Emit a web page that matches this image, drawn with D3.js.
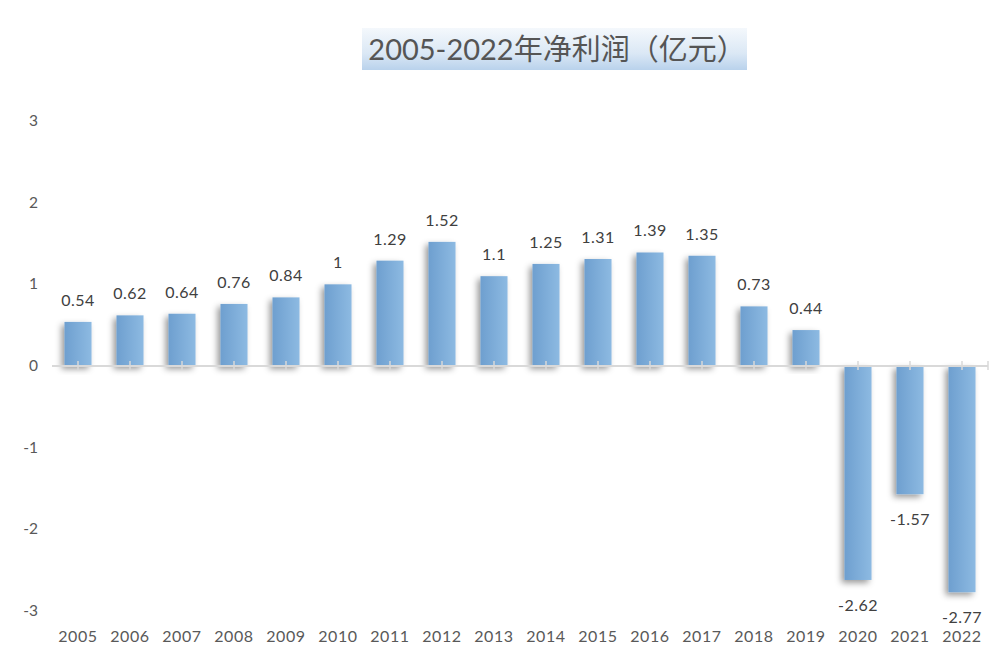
<!DOCTYPE html>
<html><head><meta charset="utf-8">
<script src="https://cdn.jsdelivr.net/npm/d3@7/dist/d3.min.js"></script>
<style>body{margin:0;background:#fff}svg{display:block}</style>
</head><body>
<script>
const years = ["2005","2006","2007","2008","2009","2010","2011","2012","2013","2014","2015","2016","2017","2018","2019","2020","2021","2022"];
const profits = [0.54,0.62,0.64,0.76,0.84,1,1.29,1.52,1.1,1.25,1.31,1.39,1.35,0.73,0.44,-2.62,-1.57,-2.77];
const yTicks = [3,2,1,0,-1,-2,-3];
const title = "2005-2022年净利润（亿元）";

const W = 1006, H = 647;
const font = "Lato, 'Noto Sans CJK SC', sans-serif";
const svg = d3.select("body").append("svg").attr("width", W).attr("height", H);
const defs = svg.append("defs");

const tg = defs.append("linearGradient").attr("id","tg").attr("x1",0).attr("y1",0).attr("x2",0).attr("y2",1);
tg.append("stop").attr("offset","0%").attr("stop-color","#f4f8fc");
tg.append("stop").attr("offset","60%").attr("stop-color","#dbe8f5");
tg.append("stop").attr("offset","100%").attr("stop-color","#b9d2ec");

const bg = defs.append("linearGradient").attr("id","bg").attr("x1",0).attr("y1",0).attr("x2",1).attr("y2",0);
bg.append("stop").attr("offset","0%").attr("stop-color","#6e9fcf");
bg.append("stop").attr("offset","100%").attr("stop-color","#8dbae2");

const f = defs.append("filter").attr("id","sh").attr("x","-50%").attr("y","-20%").attr("width","200%").attr("height","140%");
f.append("feDropShadow").attr("dx",-3).attr("dy",3).attr("stdDeviation",3).attr("flood-color","#000").attr("flood-opacity",0.4);

// title
svg.append("rect").attr("x",362).attr("y",28).attr("width",385).attr("height",42).attr("fill","url(#tg)");
svg.append("text").attr("x",557).attr("y",60).attr("text-anchor","middle")
  .attr("font-family",font).attr("font-size",29).attr("fill","#555")
  .text(title);

const x = d3.scaleBand().domain(years).range([52,988]).paddingInner(0.48).paddingOuter(0.24);
const y = d3.scaleLinear().domain([-3,3]).range([611,121]);

// y labels
svg.append("g").selectAll("text").data(yTicks).join("text")
  .attr("x",38).attr("y",d=>y(d)+5).attr("text-anchor","end")
  .attr("font-family",font).attr("font-size",15.5).attr("fill","#595959")
  .text(d=>d);

// bars
svg.append("g").selectAll("rect").data(profits).join("rect")
  .attr("x",(d,i)=>x(years[i]))
  .attr("width",x.bandwidth())
  .attr("y",d=>Math.min(y(d),y(0)))
  .attr("height",d=>Math.abs(y(d)-y(0)))
  .attr("fill","url(#bg)")
  .attr("filter","url(#sh)");

// axis line and ticks
const axisG = svg.append("g").attr("transform",`translate(0,${y(0)})`);
axisG.append("line").attr("x1",52).attr("x2",988).attr("stroke","#d9d9d9").attr("stroke-width",2);
axisG.selectAll("line.t").data(years).join("line").attr("class","t")
  .attr("x1",d=>x(d)+x.bandwidth()/2).attr("x2",d=>x(d)+x.bandwidth()/2)
  .attr("y1",-5).attr("y2",4).attr("stroke","#d9d9d9").attr("stroke-width",1.5);
axisG.append("line").attr("x1",988).attr("x2",988).attr("y1",-5).attr("y2",4).attr("stroke","#d9d9d9").attr("stroke-width",1.5);

// x labels
svg.append("g").selectAll("text").data(years).join("text")
  .attr("x",d=>x(d)+x.bandwidth()/2).attr("y",642).attr("text-anchor","middle")
  .attr("font-family",font).attr("font-size",16).attr("letter-spacing",0.6).attr("fill","#595959")
  .text(d=>d);

// value labels
svg.append("g").selectAll("text").data(profits).join("text")
  .attr("x",(d,i)=>x(years[i])+x.bandwidth()/2)
  .attr("y",d=>d>=0 ? y(d)-16 : y(d)+31)
  .attr("text-anchor","middle")
  .attr("font-family",font).attr("font-size",16).attr("letter-spacing",0.5).attr("fill","#404040")
  .text(d=>d);
</script>
</body></html>
